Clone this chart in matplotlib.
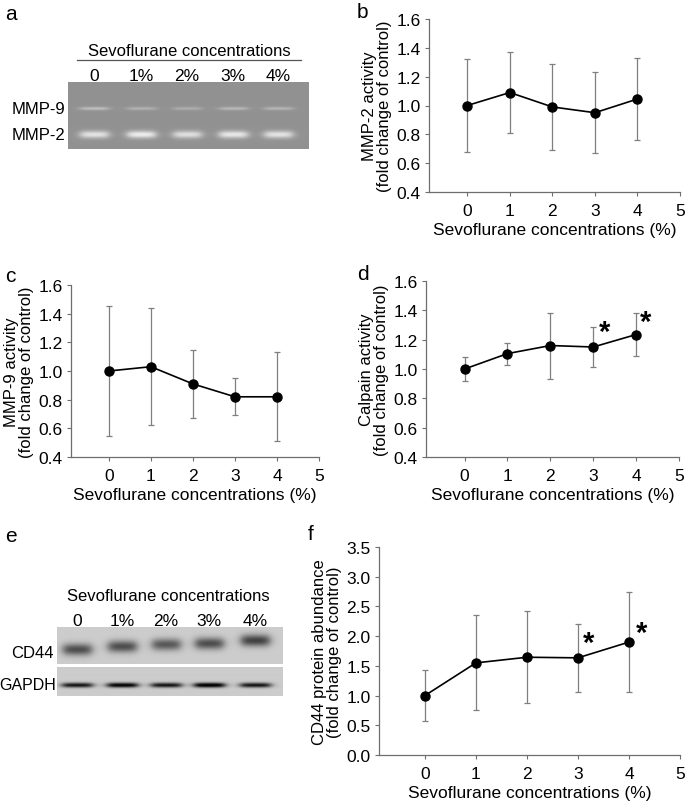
import numpy as np
import matplotlib
matplotlib.use('Agg')
import matplotlib.pyplot as plt
from matplotlib.lines import Line2D

plt.rcParams['font.family'] = ['Liberation Sans', 'DejaVu Sans']
plt.rcParams['font.size'] = 10

W, H = 685, 803

# data
conc = [0, 1, 2, 3, 4]
lanes = ['0', '1%', '2%', '3%', '4%']

mmp2 = [1.00, 1.09, 0.99, 0.95, 1.045]
mmp2_err = [0.32, 0.28, 0.30, 0.28, 0.285]

mmp9 = [1.00, 1.03, 0.91, 0.82, 0.82]
mmp9_err = [0.455, 0.41, 0.24, 0.13, 0.31]

calpain = [1.00, 1.105, 1.16, 1.15, 1.235]
calpain_err = [0.085, 0.075, 0.225, 0.135, 0.147]

cd44 = [1.00, 1.55, 1.645, 1.635, 1.90]
cd44_err = [0.435, 0.80, 0.77, 0.575, 0.84]

# gel band intensities (relative) per lane
mmp9_band = [0.35, 0.25, 0.22, 0.30, 0.28]
mmp2_band = [0.85, 0.95, 0.80, 0.90, 0.85]
cd44_band = [0.50, 0.50, 0.46, 0.50, 0.55]
cd44_shift = [22, 19, 17, 16, 13]
gapdh_band = [0.75, 0.85, 0.75, 0.90, 0.75]


def fx(px):
    return px / W


def fy(py):
    return 1 - py / H


def fig_text(x, y, s, **kw):
    fig.text(fx(x), fy(y), s, **kw)


fig = plt.figure(figsize=(W / 100, H / 100), dpi=100)


def line_panel(rect, y, err, ylim, yticks, ylabel, stars=None):
    l, t, r, b = rect
    ax = fig.add_axes([fx(l), fy(b), fx(r) - fx(l), fy(t) - fy(b)])
    ax.errorbar(conc, y, yerr=err, fmt='none', ecolor='#7f7f7f',
                elinewidth=0.9, capsize=2.5, capthick=0.9, zorder=1)
    ax.plot(conc, y, color='black', lw=1.2, marker='o', ms=6.5,
            mfc='black', mec='black', zorder=2)
    ax.set_xlim(-0.9, 5)
    ax.set_ylim(*ylim)
    ax.set_xticks(range(6))
    ax.set_yticks(yticks)
    ax.set_yticklabels([f'{v:.1f}' for v in yticks])
    for s in ['top', 'right']:
        ax.spines[s].set_visible(False)
    for s in ['left', 'bottom']:
        ax.spines[s].set_color('#6e6e6e')
        ax.spines[s].set_linewidth(0.9)
    ax.tick_params(direction='out', length=3, width=0.8, color='#6e6e6e',
                   labelsize=12.5, pad=3)
    ax.tick_params(axis='x', pad=5)
    ax.set_xlabel('Sevoflurane concentrations (%)', fontsize=12.5, labelpad=3)
    ax.set_ylabel(ylabel, fontsize=12, labelpad=3, linespacing=1.0)
    if stars:
        for sx, sy in stars:
            ax.text(sx, sy, '*', fontsize=21, fontweight='bold',
                    ha='center', va='center')
    return ax


# b
line_panel((429, 20, 680, 193), mmp2, mmp2_err, (0.4, 1.6),
           np.arange(0.4, 1.61, 0.2),
           'MMP-2 activity\n(fold change of control)')
# c
line_panel((71, 286, 319, 458), mmp9, mmp9_err, (0.4, 1.6),
           np.arange(0.4, 1.61, 0.2),
           'MMP-9 activity\n(fold change of control)')
# d
line_panel((426, 282, 679, 458), calpain, calpain_err, (0.4, 1.6),
           np.arange(0.4, 1.61, 0.2),
           'Calpain activity\n(fold change of control)',
           stars=[(3.26, 1.25), (4.23, 1.32)])
# f
line_panel((379, 548, 680, 756), cd44, cd44_err, (0, 3.5),
           np.arange(0, 3.51, 0.5),
           'CD44 protein abundance\n(fold change of control)',
           stars=[(3.2, 1.88), (4.24, 2.05)])


# gel images
def gel(rect, w, h, bg, rows, lane_x, half_w, sign):
    l, t, r, b = rect
    ax = fig.add_axes([fx(l), fy(b), fx(r) - fx(l), fy(t) - fy(b)])
    yy, xx = np.mgrid[0:h, 0:w]
    img = np.full((h, w), bg, dtype=float)
    for ys, sig, amps in rows:
        for i, cx in enumerate(lane_x):
            yc = ys[i] if hasattr(ys, '__len__') else ys
            px = 1 / (1 + np.exp((np.abs(xx - cx) - half_w) / 2.5))
            py = np.exp(-((yy - yc) ** 2) / (2 * sig ** 2))
            img = img + sign * amps[i] * px * py
    ax.imshow(np.clip(img, 0, 1), cmap='gray', vmin=0, vmax=1,
              aspect='auto', interpolation='bilinear')
    ax.set_xticks([])
    ax.set_yticks([])
    for s in ax.spines.values():
        s.set_visible(False)
    return ax


# a
gel((68, 83, 309, 150), 241, 67, 0.57,
    [(26, 1.2, [v * 0.5 for v in mmp9_band]),
     (52, 2.6, [v * 0.38 for v in mmp2_band])],
    [26, 73, 119, 165, 210], 14, 1)
fig_text(5, 14, 'a', fontsize=15, va='center')
fig_text(189, 52, 'Sevoflurane concentrations', fontsize=12,
         ha='center', va='center')
fig.add_artist(Line2D([fx(77), fx(301)], [fy(61), fy(61)], color='#555555',
                      lw=0.9))
for lx, lab in zip([94, 141, 187, 233, 278], lanes):
    fig_text(lx, 77, lab, fontsize=12.5, ha='center', va='center')
fig_text(65, 109, 'MMP-9', fontsize=12, ha='right', va='center')
fig_text(65, 135, 'MMP-2', fontsize=12, ha='right', va='center')

# e
gel((57, 628, 283, 665), 226, 37, 0.80,
    [(cd44_shift, 4.2, cd44_band)],
    [20, 65, 109, 152, 198], 14, -1)
gel((57, 668, 283, 697), 226, 29, 0.80,
    [(18, 1.6, gapdh_band)],
    [20, 65, 109, 152, 198], 15, -1)
fig_text(5, 537, 'e', fontsize=15, va='center')
fig_text(168, 597, 'Sevoflurane concentrations', fontsize=12,
         ha='center', va='center')
for lx, lab in zip([77, 122, 166, 209, 255], lanes):
    fig_text(lx, 622, lab, fontsize=12.5, ha='center', va='center')
fig_text(54, 654, 'CD44', fontsize=12, ha='right', va='center')
fig_text(56, 686, 'GAPDH', fontsize=11.5, ha='right', va='center')

fig_text(357, 12, 'b', fontsize=15, va='center')
fig_text(5, 277, 'c', fontsize=15, va='center')
fig_text(357, 275, 'd', fontsize=15, va='center')
fig_text(308, 535, 'f', fontsize=15, va='center')

fig.savefig('out.png', dpi=100)
